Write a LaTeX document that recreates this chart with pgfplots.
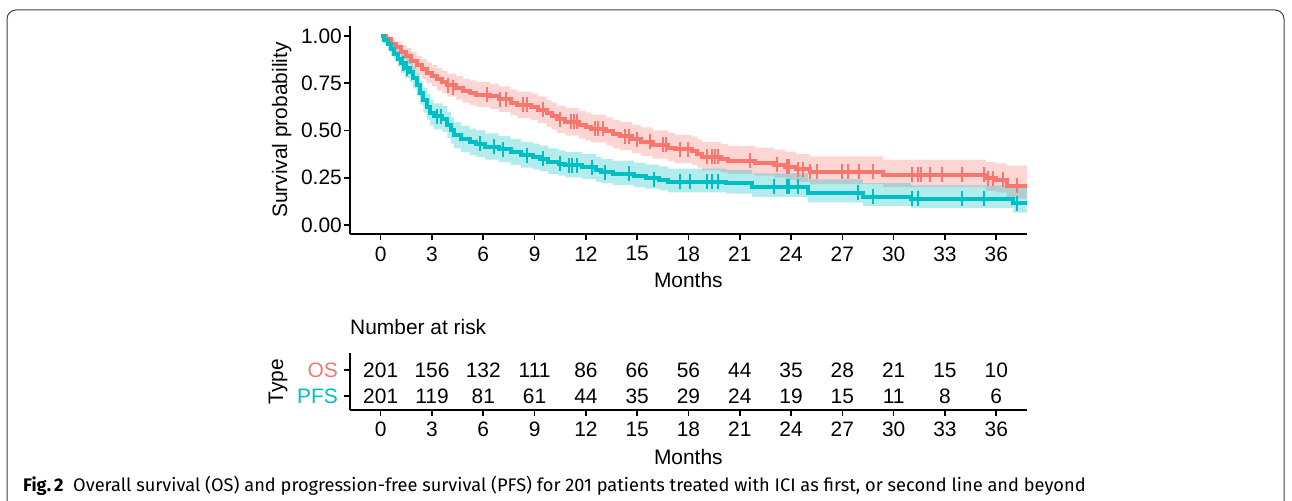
\documentclass[border=0pt]{standalone}
\usepackage{fontspec}
\setmainfont{Liberation Sans}
\newfontfamily\capfont{Fira Sans}
\usepackage{pgfplots}
\pgfplotsset{compat=1.18}
\usepackage{pgfplotstable}
\usepgfplotslibrary{fillbetween}

\definecolor{osred}{HTML}{F8766D}
\definecolor{pfsteal}{HTML}{00BFC4}
\newcommand\kmfont{\fontsize{21}{25}\selectfont}

% Kaplan-Meier steps: time, survival, lower CI, upper CI
\pgfplotstableread{
t s lo hi
0 1.000 1.000 1.000
0.3 0.985 0.968 1.000
0.6 0.960 0.935 0.985
0.9 0.940 0.905 0.970
1.2 0.915 0.878 0.952
1.5 0.895 0.853 0.937
1.8 0.870 0.823 0.917
2.1 0.845 0.795 0.895
2.4 0.825 0.772 0.878
2.7 0.805 0.750 0.860
3.0 0.790 0.733 0.847
3.3 0.770 0.712 0.830
3.6 0.755 0.695 0.815
3.9 0.740 0.679 0.801
4.4 0.725 0.663 0.788
4.8 0.710 0.647 0.774
5.2 0.700 0.636 0.765
5.6 0.690 0.625 0.756
6.4 0.680 0.614 0.747
6.9 0.665 0.598 0.733
7.6 0.648 0.580 0.717
8.0 0.635 0.566 0.705
8.8 0.625 0.556 0.696
9.2 0.610 0.540 0.681
9.7 0.590 0.519 0.662
10.0 0.575 0.504 0.647
10.3 0.560 0.488 0.632
10.8 0.545 0.473 0.618
11.6 0.530 0.457 0.603
12.0 0.520 0.447 0.594
12.3 0.510 0.437 0.584
13.2 0.495 0.421 0.569
13.6 0.480 0.406 0.555
14.0 0.470 0.396 0.545
14.7 0.455 0.381 0.530
15.2 0.440 0.366 0.516
15.9 0.425 0.351 0.501
16.8 0.410 0.336 0.487
17.2 0.400 0.327 0.477
18.2 0.390 0.317 0.467
18.5 0.375 0.303 0.453
18.8 0.360 0.289 0.438
19.9 0.350 0.279 0.428
20.3 0.340 0.270 0.418
21.9 0.330 0.261 0.409
23.0 0.320 0.251 0.399
23.65 0.308 0.240 0.388
24.3 0.295 0.228 0.375
25.1 0.282 0.216 0.363
29.4 0.265 0.200 0.346
35.4 0.248 0.180 0.333
36.0 0.240 0.172 0.326
36.6 0.208 0.140 0.314
37.8 0.208 0.140 0.314
}\osdata

\pgfplotstableread{
t s lo hi
0 1.000 1.000 1.000
0.2 0.980 0.961 1.000
0.4 0.955 0.927 0.983
0.6 0.930 0.895 0.966
0.8 0.905 0.865 0.946
1.0 0.880 0.835 0.926
1.2 0.855 0.806 0.905
1.4 0.830 0.778 0.883
1.7 0.810 0.756 0.865
1.9 0.780 0.723 0.838
2.1 0.740 0.680 0.801
2.3 0.700 0.637 0.764
2.5 0.660 0.595 0.726
2.7 0.625 0.558 0.692
2.9 0.595 0.527 0.663
3.1 0.575 0.506 0.644
3.6 0.560 0.491 0.630
3.9 0.530 0.460 0.600
4.1 0.500 0.430 0.570
4.3 0.475 0.405 0.545
4.7 0.455 0.385 0.525
5.2 0.440 0.371 0.510
5.6 0.430 0.361 0.500
6.1 0.415 0.346 0.485
6.9 0.400 0.332 0.470
7.6 0.385 0.318 0.455
8.2 0.370 0.304 0.440
8.9 0.360 0.294 0.430
9.3 0.350 0.285 0.420
9.8 0.335 0.271 0.405
10.4 0.325 0.261 0.395
10.8 0.315 0.252 0.385
11.8 0.305 0.243 0.375
12.6 0.290 0.229 0.360
12.9 0.280 0.220 0.350
13.6 0.270 0.211 0.340
14.8 0.260 0.201 0.330
15.5 0.250 0.192 0.320
16.3 0.240 0.183 0.310
16.8 0.228 0.172 0.298
20.2 0.222 0.166 0.292
21.7 0.203 0.149 0.273
25.0 0.171 0.120 0.242
28.2 0.150 0.101 0.222
31.0 0.138 0.090 0.210
37.0 0.115 0.065 0.196
37.8 0.115 0.065 0.196
}\pfsdata

% censored observations
\pgfplotstableread{
t s
3.95 0.740
4.2 0.725
6.2 0.690
7.0 0.665
7.3 0.665
8.35 0.635
8.55 0.635
9.5 0.610
10.5 0.560
11.1 0.545
11.3 0.545
11.5 0.545
12.55 0.510
12.7 0.510
13.0 0.510
14.3 0.470
14.5 0.470
15.0 0.455
15.75 0.440
16.5 0.425
16.7 0.425
17.5 0.400
18.0 0.400
19.1 0.360
19.4 0.360
19.55 0.360
19.7 0.360
21.6 0.340
23.2 0.320
23.75 0.308
23.9 0.308
24.4 0.295
24.7 0.295
25.1 0.282
25.5 0.282
27.0 0.282
27.3 0.282
28.0 0.282
28.8 0.282
31.1 0.265
31.4 0.265
31.6 0.265
32.1 0.265
32.8 0.265
34.0 0.265
35.3 0.265
35.5 0.248
35.8 0.248
36.4 0.240
37.2 0.208
}\oscens

\pgfplotstableread{
t s
1.3 0.855
1.55 0.830
3.3 0.575
3.5 0.575
5.8 0.430
6.6 0.415
7.15 0.400
8.55 0.370
9.5 0.350
10.5 0.325
11.0 0.315
11.2 0.315
11.5 0.315
12.35 0.305
13.1 0.280
14.5 0.270
16.0 0.240
17.5 0.228
18.1 0.228
19.1 0.228
19.4 0.228
19.7 0.228
23.0 0.203
23.75 0.203
23.9 0.203
24.4 0.203
27.9 0.171
28.8 0.150
31.1 0.138
31.4 0.138
34.0 0.138
35.3 0.138
37.2 0.115
}\pfscens

% number at risk
\pgfplotstableread{
t y n
0 2 201
3 2 156
6 2 132
9 2 111
12 2 86
15 2 66
18 2 56
21 2 44
24 2 35
27 2 28
30 2 21
33 2 15
36 2 10
0 1 201
3 1 119
6 1 81
9 1 61
12 1 44
15 1 35
18 1 29
21 1 24
24 1 19
27 1 15
30 1 11
33 1 8
36 1 6
}\risk

\pgfplotsset{
  kmbase/.style={
    scale only axis,
    width=676.7bp,
    xmin=-1.795, xmax=37.78,
    xtick={0,3,...,36},
    axis x line*=bottom, axis y line*=left,
    axis line style={-, line width=1.6bp, black},
    tick style={line width=1.6bp, black},
    major tick length=6bp,
    tick align=outside,
    every tick label/.append style={font=\kmfont},
    label style={font=\kmfont},
    xticklabel style={inner sep=0pt, anchor=north, yshift=-6bp},
    yticklabel style={inner sep=0pt, anchor=east, xshift=-2bp},
    /pgf/number format/assume math mode=true,
    scaled ticks=false,
    clip=false,
  },
}

\begin{document}
\begin{tikzpicture}
\draw[line width=1bp, black!75, rounded corners=9bp] (7bp,0bp) -- (7bp,491bp) -- (1284bp,491bp) -- (1284bp,0bp);

\begin{axis}[kmbase,
  at={(350bp,266.7bp)}, anchor=south west,
  height=208.3bp,
  ymin=-0.0492, ymax=1.0529,
  ytick={0,0.25,0.5,0.75,1},
  yticklabels={0.00,0.25,0.50,0.75,1.00},
  xlabel={Months}, ylabel={Survival probability},
  xlabel style={at={([yshift=-45.7bp]axis description cs:0.5,0)}, anchor=center},
  ylabel style={at={([xshift=-68.3bp]axis description cs:0,0.5)}, anchor=center},
]
\addplot[const plot, draw=none, name path=osU, forget plot] table[x=t,y=hi]{\osdata};
\addplot[const plot, draw=none, name path=osL, forget plot] table[x=t,y=lo]{\osdata};
\addplot[fill=osred, fill opacity=0.3, draw=none] fill between[of=osU and osL];
\addplot[const plot, draw=none, name path=pfsU, forget plot] table[x=t,y=hi]{\pfsdata};
\addplot[const plot, draw=none, name path=pfsL, forget plot] table[x=t,y=lo]{\pfsdata};
\addplot[fill=pfsteal, fill opacity=0.3, draw=none] fill between[of=pfsU and pfsL];

\addplot[const plot, osred, line width=4bp, mark=none] table[x=t,y=s]{\osdata};
\addplot[const plot, pfsteal, line width=4bp, mark=none] table[x=t,y=s]{\pfsdata};
\addplot[only marks, osred, mark=|, mark size=7.5bp, mark options={line width=2bp}] table[x=t,y=s]{\oscens};
\addplot[only marks, pfsteal, mark=|, mark size=7.5bp, mark options={line width=2bp}] table[x=t,y=s]{\pfscens};
\end{axis}

\node[anchor=west, font=\kmfont, inner sep=0pt] at (350bp,174bp) {Number at risk};

\begin{axis}[kmbase,
  at={(350bp,91bp)}, anchor=south west,
  height=57bp,
  ymin=0.46, ymax=2.65,
  ytick={1,2},
  yticklabels={\textcolor{pfsteal}{PFS},\textcolor{osred}{OS}},
  yticklabel style={xshift=-4bp},
  xlabel={Months}, ylabel={Type},
  xlabel style={at={([yshift=-46.7bp]axis description cs:0.5,0)}, anchor=center},
  ylabel style={at={([xshift=-72bp]axis description cs:0,0.5)}, anchor=center},
]
\addplot[draw=none, mark=none, nodes near coords, point meta=explicit symbolic,
  every node near coord/.append style={anchor=center, font=\kmfont, inner sep=0pt, black}]
  table[x=t, y=y, meta=n]{\risk};
\end{axis}

\node[anchor=base west, inner sep=0pt, font=\capfont\fontsize{18.3}{22}\selectfont] at (23bp,10bp)
  {\textbf{Fig.\,2}\ \ Overall survival (OS) and progression-free survival (PFS) for 201 patients treated with ICI as first, or second line and beyond};

\pgfresetboundingbox
\path[use as bounding box] (0,0) rectangle (1292bp,501bp);
\end{tikzpicture}
\end{document}
